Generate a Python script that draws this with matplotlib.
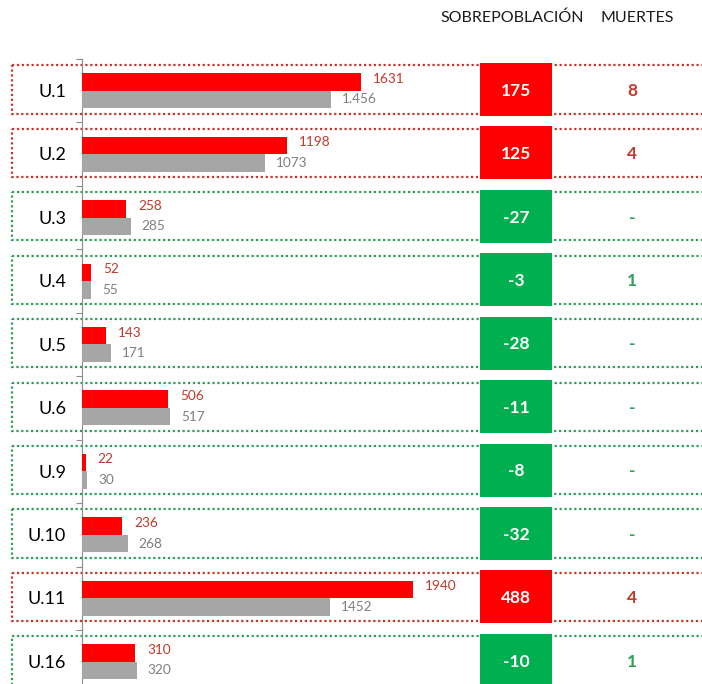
import matplotlib.pyplot as plt
import matplotlib.transforms as mtransforms
from matplotlib.patches import Rectangle
import numpy as np

plt.rcParams['font.family'] = ['Lato', 'DejaVu Sans']

# datos
unidades = ['U.1', 'U.2', 'U.3', 'U.4', 'U.5', 'U.6', 'U.9', 'U.10', 'U.11', 'U.16']
poblacion = [1631, 1198, 258, 52, 143, 506, 22, 236, 1940, 310]
capacidad = [1456, 1073, 285, 55, 171, 517, 30, 268, 1452, 320]
etiquetas_capacidad = ['1.456', '1073', '285', '55', '171', '517', '30', '268', '1452', '320']
sobrepoblacion = [175, 125, -27, -3, -28, -11, -8, -32, 488, -10]
muertes = ['8', '4', '-', '1', '-', '-', '-', '-', '4', '1']

ROJO = '#ff0000'
GRIS = '#a6a6a6'
VERDE = '#00b050'
ROJO_TXT = '#c0392b'
VERDE_TXT = '#2e9e5b'
GRIS_TXT = '#7f7f7f'

W, H = 702, 684
fig = plt.figure(figsize=(W / 100, H / 100), dpi=100)

# eje de barras: empieza en x=82 px, desde y=59 px hasta abajo
escala = 0.1708  # px por unidad
ax = fig.add_axes([82 / W, 0, (W - 82) / W, (H - 59) / H])
ax.set_xlim(0, (W - 82) / escala)
y_abajo = (H - 90.7) / 63.44
ax.set_ylim(y_abajo, -0.5)

y = np.arange(len(unidades))
alto = 0.276
ax.barh(y - alto / 2, poblacion, height=alto, color=ROJO, zorder=3)
ax.barh(y + alto / 2, capacidad, height=alto, color=GRIS, zorder=3)

for i in range(len(unidades)):
    ax.annotate(str(poblacion[i]), (poblacion[i], i - alto / 2 - 0.05),
                xytext=(12, 0), textcoords='offset pixels',
                ha='left', va='center', fontsize=9.8, color=ROJO_TXT, zorder=4)
    ax.annotate(etiquetas_capacidad[i], (capacidad[i], i + alto / 2),
                xytext=(11, 0), textcoords='offset pixels',
                ha='left', va='center', fontsize=9.8, color=GRIS_TXT, zorder=4)

for s in ['top', 'right', 'bottom']:
    ax.spines[s].set_visible(False)
ax.spines['left'].set_color('#8c8c8c')
ax.set_xticks([])
ax.set_yticks(y - 0.5)
ax.set_yticklabels([])
ax.tick_params(axis='y', direction='out', length=4, color='#8c8c8c')
ax.patch.set_alpha(0)

# x en fracción de figura, y en filas
trans = mtransforms.blended_transform_factory(fig.transFigure, ax.transData)

for i in range(len(unidades)):
    positivo = sobrepoblacion[i] > 0
    c_borde = ROJO_TXT if positivo else VERDE_TXT
    alto_caja = 0.76 if i < len(unidades) - 1 else 1.0
    y0 = i - 0.02 - 0.38
    ax.add_patch(Rectangle((12 / W, y0), 1.0, alto_caja,
                           transform=trans, fill=False, edgecolor=c_borde,
                           linestyle=(0, (1, 1.2)), linewidth=1.6,
                           clip_on=False, zorder=1))
    alto_cuad = 0.835
    ax.add_patch(Rectangle((480 / W, i - 0.02 - alto_cuad / 2), 72 / W, alto_cuad,
                           transform=trans, facecolor=ROJO if positivo else VERDE,
                           edgecolor='none', clip_on=False, zorder=5))
    ax.text(516 / W, i, str(sobrepoblacion[i]), transform=trans,
            ha='center', va='center', fontsize=12.5, fontweight='bold',
            color='white', zorder=6)
    ax.text(632 / W, i, muertes[i], transform=trans,
            ha='center', va='center', fontsize=12.5, fontweight='bold',
            color=ROJO_TXT if positivo else VERDE_TXT, zorder=6)
    ax.text(66 / W, i + 0.02, unidades[i], transform=trans, ha='right', va='center',
            fontsize=13, color='black', zorder=6)

fig.text(512 / W, 1 - 18 / H, 'SOBREPOBLACIÓN', ha='center', va='center',
         fontsize=11.5, color='#1a1a1a')
fig.text(637 / W, 1 - 18 / H, 'MUERTES', ha='center', va='center',
         fontsize=11.5, color='#1a1a1a')

fig.savefig('out.png', dpi=100)
